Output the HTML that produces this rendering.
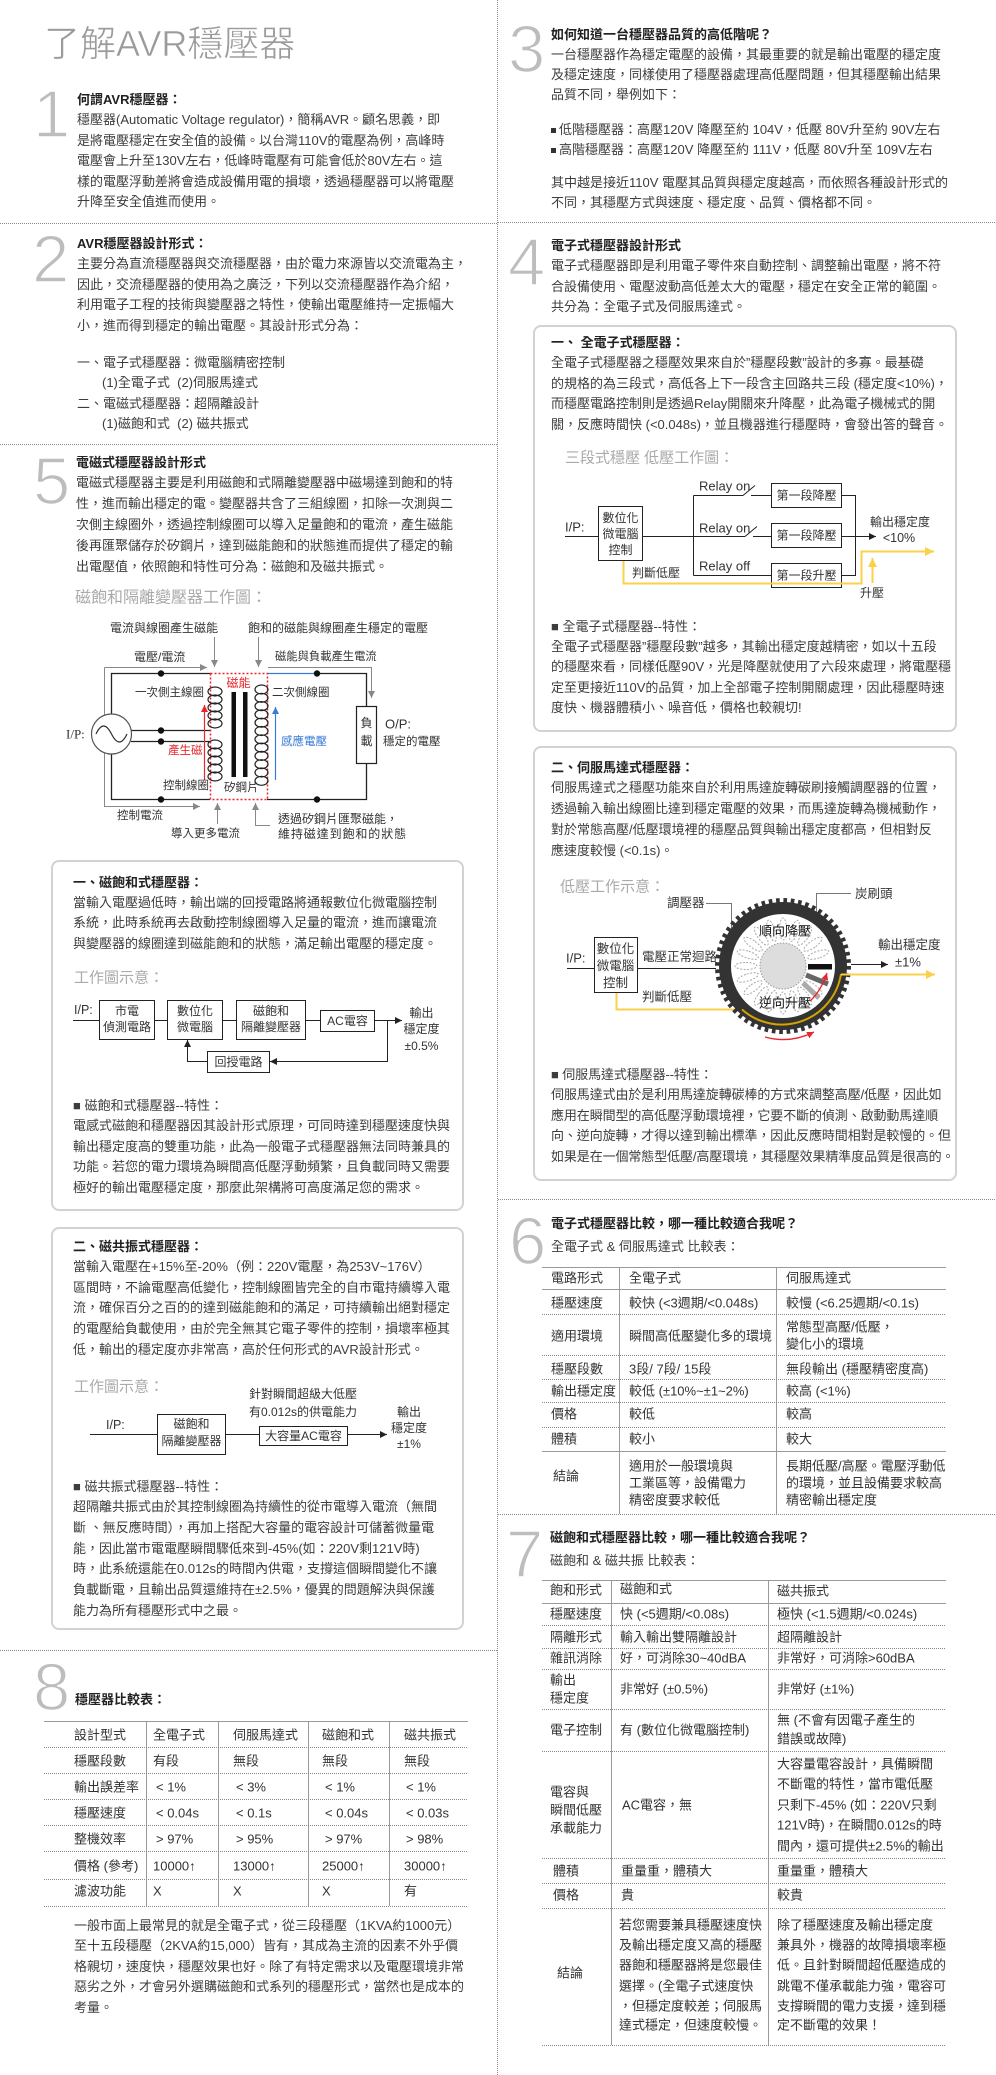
<!DOCTYPE html>
<html><head><meta charset="utf-8">
<style>
*{margin:0;padding:0}
body{width:996px;height:2075px;position:relative;background:#fff;font-family:"Liberation Sans","Noto Sans CJK TC",sans-serif;color:#3d3d3d;font-size:13px;overflow:hidden}
.p{position:absolute;white-space:nowrap;font-size:13px}
.p b{color:#222}
.n{position:absolute;font-size:67px;line-height:67px;color:#bdbdbd;font-family:"Liberation Sans",sans-serif;-webkit-text-stroke:1.6px #fff}
svg{position:absolute;left:0;top:0}
svg text{font-family:"Liberation Sans","Noto Sans CJK TC",sans-serif;fill:#333;dominant-baseline:central}
.sq{display:inline-block;width:5px;height:5px;background:#333;margin-right:3px;vertical-align:middle}
.ind{display:inline-block;margin-left:25px}
</style></head><body>

<svg width="996" height="2075" viewBox="0 0 996 2075">
<defs>
<marker id="ak" markerWidth="8" markerHeight="8" refX="7" refY="3.5" orient="auto" markerUnits="userSpaceOnUse"><path d="M0,0 L7,3.5 L0,7 z" fill="#222"/></marker>
<marker id="ag" markerWidth="8" markerHeight="8" refX="7" refY="3.5" orient="auto" markerUnits="userSpaceOnUse"><path d="M0,0 L7,3.5 L0,7 z" fill="#888"/></marker>
<marker id="ar" markerWidth="8" markerHeight="8" refX="7" refY="3.5" orient="auto" markerUnits="userSpaceOnUse"><path d="M0,0 L7,3.5 L0,7 z" fill="#e8262b"/></marker>
<marker id="ab" markerWidth="8" markerHeight="8" refX="7" refY="3.5" orient="auto" markerUnits="userSpaceOnUse"><path d="M0,0 L7,3.5 L0,7 z" fill="#3a7bd5"/></marker>
<marker id="ay" markerWidth="10" markerHeight="10" refX="9" refY="4.5" orient="auto" markerUnits="userSpaceOnUse"><path d="M0,0 L9,4.5 L0,9 z" fill="#f9d24a"/></marker>
</defs>

<g stroke="#8a8a8a" stroke-width="1" stroke-dasharray="1 1">
<line x1="0" y1="223.5" x2="497" y2="223.5"/>
<line x1="0" y1="444.5" x2="497" y2="444.5"/>
<line x1="0" y1="1650.5" x2="497" y2="1650.5"/>
<line x1="498" y1="222.5" x2="996" y2="222.5"/>
<line x1="498" y1="1199.5" x2="996" y2="1199.5"/>
<line x1="498" y1="1514.5" x2="996" y2="1514.5"/>
<line x1="497.5" y1="0" x2="497.5" y2="2075"/>
</g>

<g fill="none" stroke="#d2d2d2" stroke-width="2">
<rect x="52" y="861" width="411" height="349" rx="7"/>
<rect x="52" y="1228" width="411" height="401" rx="7"/>
<rect x="534" y="326" width="422" height="405" rx="7"/>
<rect x="534" y="747" width="422" height="433" rx="7"/>
</g>

<!-- Diagram 1 -->
<text x="75" y="598" font-size="16" style="fill:#aaa">磁飽和隔離變壓器工作圖：</text>
<g font-size="12">
<text x="110" y="628">電流與線圈產生磁能</text>
<text x="248" y="628">飽和的磁能與線圈產生穩定的電壓</text>
<text x="134" y="657">電壓/電流</text>
<text x="275" y="657" font-size="11.3">磁能與負載產生電流</text>
</g>
<g stroke="#888" fill="none" stroke-width="1">
<path d="M214.5 637 V667" marker-end="url(#ag)"/>
<path d="M258.5 637 V667" marker-end="url(#ag)"/>
<path d="M104.5 667.5 H207" marker-end="url(#ag)"/>
<path d="M104.5 667.5 V806.5 H200" marker-end="url(#ag)"/>
<path d="M268 667.5 H371.5 V698" marker-end="url(#ag)"/>
<path d="M217.5 824 V803" marker-end="url(#ag)"/>
<path d="M270 825.5 H255.5 V803" marker-end="url(#ag)"/>
</g>
<g stroke="#222" stroke-width="1.3" fill="none">
<path d="M210 673.5 H111.5 V714 M111.5 754 V799.5 H210"/>
<path d="M131 730.5 H210 M131 741.5 H210"/>
<path d="M317 673.5 H366.5 V706 M366.5 763 V799.5 H267"/>
<rect x="356.5" y="706.5" width="20" height="57" stroke-width="1.2"/>
</g>
<path d="M267 673.5 H317" stroke="#3a7bd5" stroke-width="1.3"/>
<g fill="#111">
<circle cx="161" cy="673.5" r="3.2"/><circle cx="161" cy="730.5" r="3.2"/><circle cx="161" cy="741.5" r="3.2"/><circle cx="161" cy="799.5" r="3.2"/>
<circle cx="317" cy="673.5" r="3.2"/><circle cx="317" cy="799.5" r="3.2"/>
</g>
<circle cx="111.5" cy="734" r="20" fill="#fff" stroke="#555" stroke-width="1.2"/>
<path d="M96 734 Q103.5 718 111.5 734 T127 734" stroke="#333" fill="none" stroke-width="1.2"/>
<rect x="210.5" y="673.5" width="57" height="126" fill="none" stroke="#e8262b" stroke-width="1.5" stroke-dasharray="2 2"/>
<g stroke="#222" stroke-width="1.2" fill="none">
<ellipse cx="215" cy="691.5" rx="7" ry="4.5"/><ellipse cx="215" cy="699.5" rx="7" ry="4.5"/><ellipse cx="215" cy="707.5" rx="7" ry="4.5"/><ellipse cx="215" cy="715.5" rx="7" ry="4.5"/><ellipse cx="215" cy="723.5" rx="7" ry="4.5"/>
<ellipse cx="215" cy="744.5" rx="7" ry="4.5"/><ellipse cx="215" cy="752.5" rx="7" ry="4.5"/><ellipse cx="215" cy="760.5" rx="7" ry="4.5"/><ellipse cx="215" cy="768.5" rx="7" ry="4.5"/><ellipse cx="215" cy="776.5" rx="7" ry="4.5"/>
<ellipse cx="261.5" cy="689.5" rx="6.5" ry="4.5"/><ellipse cx="261.5" cy="697.8" rx="6.5" ry="4.5"/><ellipse cx="261.5" cy="706.1" rx="6.5" ry="4.5"/><ellipse cx="261.5" cy="714.4" rx="6.5" ry="4.5"/><ellipse cx="261.5" cy="722.7" rx="6.5" ry="4.5"/><ellipse cx="261.5" cy="731" rx="6.5" ry="4.5"/><ellipse cx="261.5" cy="739.3" rx="6.5" ry="4.5"/><ellipse cx="261.5" cy="747.6" rx="6.5" ry="4.5"/><ellipse cx="261.5" cy="755.9" rx="6.5" ry="4.5"/><ellipse cx="261.5" cy="764.2" rx="6.5" ry="4.5"/><ellipse cx="261.5" cy="772.5" rx="6.5" ry="4.5"/><ellipse cx="261.5" cy="780.8" rx="6.5" ry="4.5"/>
</g>
<rect x="231.5" y="692" width="4.5" height="85" fill="#111"/>
<rect x="243" y="692" width="4.5" height="85" fill="#111"/>
<path d="M204.5 780 V705" stroke="#e8262b" stroke-width="1.2" marker-end="url(#ar)"/>
<path d="M275.5 780 V707" stroke="#3a7bd5" stroke-width="1.2" marker-end="url(#ab)"/>
<g font-size="11.5">
<text x="238.5" y="683" text-anchor="middle" font-size="12" style="fill:#e8262b">磁能</text>
<text x="135" y="693">一次側主線圈</text>
<text x="272" y="693">二次側線圈</text>
<text x="168" y="751" style="fill:#e8262b">產生磁</text>
<text x="163" y="786">控制線圈</text>
<text x="224" y="788">矽鋼片</text>
<text x="281" y="742" style="fill:#3a7bd5">感應電壓</text>
<text x="366.5" y="723" text-anchor="middle" font-size="12">負</text>
<text x="366.5" y="741" text-anchor="middle" font-size="12">載</text>
<text x="385" y="724" font-size="13">O/P:</text>
<text x="383" y="742">穩定的電壓</text>
<text x="66" y="734" font-size="13" style="font-family:'Liberation Serif',serif">I/P:</text>
<text x="117" y="816">控制電流</text>
<text x="171" y="834">導入更多電流</text>
<text x="278" y="819" font-size="12">透過矽鋼片匯聚磁能，</text>
<text x="278" y="834" font-size="12" letter-spacing="0.9">維持磁達到飽和的狀態</text>
</g>

<!-- Diagram 2 -->
<text x="74" y="978" font-size="15" style="fill:#aaa">工作圖示意：</text>
<g stroke="#222" fill="none" stroke-width="1">
<path d="M73 1020.5 H99.5"/>
<rect x="99.5" y="1000.5" width="55" height="39"/>
<rect x="167.5" y="1000.5" width="55" height="39"/>
<rect x="236.5" y="1000.5" width="69" height="39"/>
<rect x="320.5" y="1010.5" width="54" height="21"/>
<path d="M154.5 1020.5 H167.5 M222.5 1020.5 H236.5 M305.5 1020.5 H320.5"/>
<path d="M374.5 1020.5 H402" marker-end="url(#ak)"/>
<path d="M387.5 1020.5 V1061.5 H270" marker-end="url(#ak)"/>
<rect x="207.5" y="1051.5" width="62" height="21"/>
<path d="M207.5 1061.5 H187.5 V1040" marker-end="url(#ak)"/>
</g>
<g font-size="12" text-anchor="middle">
<text x="127" y="1011">市電</text><text x="127" y="1027">偵測電路</text>
<text x="195" y="1011">數位化</text><text x="195" y="1027">微電腦</text>
<text x="271" y="1011">磁飽和</text><text x="271" y="1027">隔離變壓器</text>
<text x="347.5" y="1021">AC電容</text>
<text x="238.5" y="1062">回授電路</text>
<text x="421.5" y="1013">輸出</text><text x="421.5" y="1029">穩定度</text><text x="421.5" y="1046">±0.5%</text>
</g>
<text x="74" y="1010" font-size="12.5">I/P:</text>

<!-- Diagram 3 -->
<text x="74" y="1387" font-size="15" style="fill:#aaa">工作圖示意：</text>
<g stroke="#222" fill="none" stroke-width="1">
<path d="M90 1434.5 H157.5"/>
<rect x="157.5" y="1414.5" width="68" height="40"/>
<path d="M225.5 1434.5 H259.5"/>
<rect x="259.5" y="1426.5" width="88" height="19"/>
<path d="M347.5 1434.5 H387" marker-end="url(#ak)"/>
</g>
<g font-size="12">
<text x="106" y="1425" font-size="12.5">I/P:</text>
<text x="249" y="1394">針對瞬間超級大低壓</text>
<text x="249" y="1412">有0.012s的供電能力</text>
</g>
<g font-size="12" text-anchor="middle">
<text x="191.5" y="1424">磁飽和</text><text x="191.5" y="1441">隔離變壓器</text>
<text x="303.5" y="1436">大容量AC電容</text>
<text x="409" y="1412">輸出</text><text x="409" y="1428">穩定度</text><text x="409" y="1444">±1%</text>
</g>

<!-- Diagram 4 -->
<text x="565" y="458" font-size="15" style="fill:#aaa">三段式穩壓 低壓工作圖：</text>
<g stroke="#222" fill="none" stroke-width="1">
<path d="M565 536.5 H598.5"/>
<rect x="598.5" y="506.5" width="44" height="54"/>
<path d="M642.5 536.5 H745 M693.5 495.5 V575.5 M693.5 495.5 H743 M743 495.5 L755 485.5 M751 495.5 H771.5 M745 536.5 L757 526.5 M753 536.5 H771.5 M693.5 575.5 H771.5"/>
<rect x="771.5" y="483.5" width="70" height="24"/>
<rect x="771.5" y="523.5" width="70" height="24"/>
<rect x="771.5" y="563.5" width="70" height="24"/>
<path d="M841.5 495.5 H855.5 V575.5 H841.5"/>
<path d="M841.5 536.5 H876" marker-end="url(#ak)"/>
</g>
<path d="M623.5 561 V583.5 H861.5 V551.5 H934" stroke="#f9d24a" stroke-width="2" fill="none" marker-end="url(#ay)"/>
<path d="M872.5 583 V558" stroke="#f9d24a" stroke-width="2" fill="none" marker-end="url(#ay)"/>
<g font-size="12" text-anchor="middle">
<text x="620.5" y="518">數位化</text><text x="620.5" y="534">微電腦</text><text x="620.5" y="550">控制</text>
<text x="806.5" y="495.5">第一段降壓</text><text x="806.5" y="535.5">第一段降壓</text><text x="806.5" y="575.5">第一段升壓</text>
<text x="899" y="538" font-size="12.5">&lt;10%</text>
<text x="872" y="593">升壓</text>
</g>
<g font-size="12">
<text x="565" y="527" font-size="13">I/P:</text>
<text x="699" y="486" font-size="13">Relay on</text>
<text x="699" y="528" font-size="13">Relay on</text>
<text x="699" y="566" font-size="13">Relay off</text>
<text x="870" y="522">輸出穩定度</text>
<text x="632" y="573">判斷低壓</text>
</g>

<!-- Diagram 5 -->
<text x="560" y="887" font-size="15" style="fill:#aaa">低壓工作示意：</text>
<g stroke="#777" fill="none" stroke-width="1">
<path d="M706 903.5 H731.5 V935"/>
<path d="M851 893.5 H816.5 V966"/>
</g>
<g stroke="#222" fill="none" stroke-width="1">
<path d="M567 968.5 H594.5"/>
<rect x="594.5" y="937.5" width="43" height="55"/>
<path d="M637.5 968.5 H716"/>
</g>
<path d="M616.5 993 V1009.5 H742" stroke="#f9d24a" stroke-width="2" fill="none"/>
<circle cx="783" cy="966" r="65" fill="none" stroke="#333" stroke-width="6" stroke-dasharray="3.6 3.7"/>
<circle cx="783" cy="966" r="58" fill="#fff" stroke="#333" stroke-width="12"/>
<g fill="none" stroke="#aaa" stroke-width="1" stroke-dasharray="2 1.5">
<ellipse cx="783" cy="929" rx="3.5" ry="11"/>
<ellipse cx="783" cy="929" rx="3.5" ry="11" transform="rotate(18 783 966)"/>
<ellipse cx="783" cy="929" rx="3.5" ry="11" transform="rotate(36 783 966)"/>
<ellipse cx="783" cy="929" rx="3.5" ry="11" transform="rotate(54 783 966)"/>
<ellipse cx="783" cy="929" rx="3.5" ry="11" transform="rotate(72 783 966)"/>
<ellipse cx="783" cy="929" rx="3.5" ry="11" transform="rotate(126 783 966)"/>
<ellipse cx="783" cy="929" rx="3.5" ry="11" transform="rotate(144 783 966)"/>
<ellipse cx="783" cy="929" rx="3.5" ry="11" transform="rotate(162 783 966)"/>
<ellipse cx="783" cy="929" rx="3.5" ry="11" transform="rotate(180 783 966)"/>
<ellipse cx="783" cy="929" rx="3.5" ry="11" transform="rotate(198 783 966)"/>
<ellipse cx="783" cy="929" rx="3.5" ry="11" transform="rotate(216 783 966)"/>
<ellipse cx="783" cy="929" rx="3.5" ry="11" transform="rotate(234 783 966)"/>
<ellipse cx="783" cy="929" rx="3.5" ry="11" transform="rotate(252 783 966)"/>
<ellipse cx="783" cy="929" rx="3.5" ry="11" transform="rotate(270 783 966)"/>
<ellipse cx="783" cy="929" rx="3.5" ry="11" transform="rotate(288 783 966)"/>
<ellipse cx="783" cy="929" rx="3.5" ry="11" transform="rotate(306 783 966)"/>
<ellipse cx="783" cy="929" rx="3.5" ry="11" transform="rotate(324 783 966)"/>
<ellipse cx="783" cy="929" rx="3.5" ry="11" transform="rotate(342 783 966)"/>
</g>
<circle cx="783" cy="966" r="23" fill="#ddd" stroke="#999" stroke-width="1" stroke-dasharray="1.5 1.5"/>
<path d="M806 975 L828 984" stroke="#666" stroke-width="5"/>
<path d="M803 983 L819 998" stroke="#aaa" stroke-width="5"/>
<rect x="808" y="964" width="24" height="5.5" fill="#111"/>
<path d="M742 1009.5 A60 60 0 0 0 841 974" stroke="#d4a400" stroke-width="2" fill="none"/>
<path d="M841 974.5 H935" stroke="#f9d24a" stroke-width="2" fill="none" marker-end="url(#ay)"/>
<path d="M851 964.5 H888" stroke="#222" stroke-width="1" marker-end="url(#ak)"/>
<path d="M810 1001 Q821 991 827 973" stroke="#e8262b" fill="none" stroke-width="1.3" marker-end="url(#ar)"/>
<path d="M765 1037 Q790 1044 814 1032" stroke="#e8262b" fill="none" stroke-width="1.3" marker-end="url(#ar)"/>
<g font-size="12.5">
<text x="667" y="903">調壓器</text>
<text x="855" y="894">炭刷頭</text>
<text x="566" y="958" font-size="13">I/P:</text>
<text x="642" y="957">電壓正常迴路</text>
<text x="642" y="997">判斷低壓</text>
<text x="878" y="945">輸出穩定度</text>
</g>
<g font-size="12.5" text-anchor="middle">
<text x="615.5" y="949">數位化</text><text x="615.5" y="966">微電腦</text><text x="615.5" y="983">控制</text>
<text x="908" y="962" font-size="13">±1%</text>
<text x="785" y="931" font-size="13" style="fill:#111">順向降壓</text>
<text x="785" y="1003" font-size="13" style="fill:#111">逆向升壓</text>
</g>

<!-- Table 8 -->
<g stroke="#999" stroke-width="1">
<line x1="44" y1="1721.5" x2="468" y2="1721.5"/>
<line x1="146.5" y1="1721" x2="146.5" y2="1906"/>
<line x1="218.5" y1="1721" x2="218.5" y2="1906"/>
<line x1="308.5" y1="1721" x2="308.5" y2="1906"/>
<line x1="389.5" y1="1721" x2="389.5" y2="1906"/>
</g>
<g stroke="#888" stroke-width="1" stroke-dasharray="1 1">
<line x1="44" y1="1747.5" x2="468" y2="1747.5"/>
<line x1="44" y1="1773.5" x2="468" y2="1773.5"/>
<line x1="44" y1="1799.5" x2="468" y2="1799.5"/>
<line x1="44" y1="1825.5" x2="468" y2="1825.5"/>
<line x1="44" y1="1851.5" x2="468" y2="1851.5"/>
<line x1="44" y1="1879.5" x2="468" y2="1879.5"/>
<line x1="44" y1="1906.5" x2="468" y2="1906.5"/>
</g>
<g font-size="13" style="fill:#444">
<text x="74" y="1735">設計型式</text><text x="153" y="1735">全電子式</text><text x="233" y="1735">伺服馬達式</text><text x="322" y="1735">磁飽和式</text><text x="404" y="1735">磁共振式</text>
<text x="74" y="1761">穩壓段數</text><text x="153" y="1761">有段</text><text x="233" y="1761">無段</text><text x="322" y="1761">無段</text><text x="404" y="1761">無段</text>
<text x="74" y="1787">輸出誤差率</text><text x="156" y="1787">&lt; 1%</text><text x="236" y="1787">&lt; 3%</text><text x="325" y="1787">&lt; 1%</text><text x="406" y="1787">&lt; 1%</text>
<text x="74" y="1813">穩壓速度</text><text x="156" y="1813">&lt; 0.04s</text><text x="236" y="1813">&lt; 0.1s</text><text x="325" y="1813">&lt; 0.04s</text><text x="406" y="1813">&lt; 0.03s</text>
<text x="74" y="1839">整機效率</text><text x="156" y="1839">&gt; 97%</text><text x="236" y="1839">&gt; 95%</text><text x="325" y="1839">&gt; 97%</text><text x="406" y="1839">&gt; 98%</text>
<text x="74" y="1866">價格 (參考)</text><text x="153" y="1866">10000↑</text><text x="233" y="1866">13000↑</text><text x="322" y="1866">25000↑</text><text x="404" y="1866">30000↑</text>
<text x="74" y="1891">濾波功能</text><text x="153" y="1891">X</text><text x="233" y="1891">X</text><text x="322" y="1891">X</text><text x="404" y="1891">有</text>
</g>

<!-- Table 6 -->
<g stroke="#999" stroke-width="1">
<line x1="542" y1="1267.5" x2="946" y2="1267.5"/>
<line x1="542" y1="1289.5" x2="946" y2="1289.5"/>
<line x1="542" y1="1451.5" x2="946" y2="1451.5"/>
<line x1="619.5" y1="1267" x2="619.5" y2="1514"/>
<line x1="776.5" y1="1267" x2="776.5" y2="1514"/>
</g>
<g stroke="#888" stroke-width="1" stroke-dasharray="1 1">
<line x1="542" y1="1314.5" x2="946" y2="1314.5"/>
<line x1="542" y1="1355.5" x2="946" y2="1355.5"/>
<line x1="542" y1="1379.5" x2="946" y2="1379.5"/>
<line x1="542" y1="1402.5" x2="946" y2="1402.5"/>
<line x1="542" y1="1427.5" x2="946" y2="1427.5"/>
</g>
<g font-size="13" style="fill:#444">
<text x="551" y="1278">電路形式</text><text x="629" y="1278">全電子式</text><text x="786" y="1278">伺服馬達式</text>
<text x="551" y="1303">穩壓速度</text><text x="629" y="1303">較快 (&lt;3週期/&lt;0.048s)</text><text x="786" y="1303">較慢 (&lt;6.25週期/&lt;0.1s)</text>
<text x="551" y="1336">適用環境</text><text x="629" y="1336">瞬間高低壓變化多的環境</text><text x="786" y="1327">常態型高壓/低壓，</text><text x="786" y="1344">變化小的環境</text>
<text x="551" y="1369">穩壓段數</text><text x="629" y="1369">3段/ 7段/ 15段</text><text x="786" y="1369">無段輸出 (穩壓精密度高)</text>
<text x="551" y="1391">輸出穩定度</text><text x="629" y="1391">較低 (±10%~±1~2%)</text><text x="786" y="1391">較高 (&lt;1%)</text>
<text x="551" y="1414">價格</text><text x="629" y="1414">較低</text><text x="786" y="1414">較高</text>
<text x="551" y="1439">體積</text><text x="629" y="1439">較小</text><text x="786" y="1439">較大</text>
<text x="553" y="1476">結論</text>
<text x="629" y="1466">適用於一般環境與</text><text x="629" y="1483">工業區等，設備電力</text><text x="629" y="1500">精密度要求較低</text>
<text x="786" y="1466">長期低壓/高壓。電壓浮動低</text><text x="786" y="1483">的環境，並且設備要求較高</text><text x="786" y="1500">精密輸出穩定度</text>
</g>

<!-- Table 7 -->
<g stroke="#999" stroke-width="1">
<line x1="542" y1="1580.5" x2="946" y2="1580.5"/>
<line x1="542" y1="1603.5" x2="946" y2="1603.5"/>
<line x1="611.5" y1="1580" x2="611.5" y2="2045"/>
<line x1="768.5" y1="1580" x2="768.5" y2="2045"/>
</g>
<g stroke="#888" stroke-width="1" stroke-dasharray="1 1">
<line x1="542" y1="1625.5" x2="946" y2="1625.5"/>
<line x1="542" y1="1648.5" x2="946" y2="1648.5"/>
<line x1="542" y1="1669.5" x2="946" y2="1669.5"/>
<line x1="542" y1="1709.5" x2="946" y2="1709.5"/>
<line x1="542" y1="1751.5" x2="946" y2="1751.5"/>
<line x1="542" y1="1858.5" x2="946" y2="1858.5"/>
<line x1="542" y1="1883.5" x2="946" y2="1883.5"/>
<line x1="542" y1="1908.5" x2="946" y2="1908.5"/>
<line x1="542" y1="2045.5" x2="946" y2="2045.5"/>
</g>
<g font-size="13" style="fill:#444">
<text x="550" y="1590">飽和形式</text><text x="620" y="1589">磁飽和式</text><text x="777" y="1591">磁共振式</text>
<text x="550" y="1614">穩壓速度</text><text x="620" y="1614">快 (&lt;5週期/&lt;0.08s)</text><text x="777" y="1614">極快 (&lt;1.5週期/&lt;0.024s)</text>
<text x="550" y="1637">隔離形式</text><text x="620" y="1637">輸入輸出雙隔離設計</text><text x="777" y="1637">超隔離設計</text>
<text x="550" y="1658">雜訊消除</text><text x="620" y="1658">好，可消除30~40dBA</text><text x="777" y="1658">非常好，可消除&gt;60dBA</text>
<text x="550" y="1680">輸出</text><text x="550" y="1698">穩定度</text><text x="620" y="1689">非常好 (±0.5%)</text><text x="777" y="1689">非常好 (±1%)</text>
<text x="550" y="1730">電子控制</text><text x="620" y="1730">有 (數位化微電腦控制)</text><text x="777" y="1720">無 (不會有因電子產生的</text><text x="777" y="1739">錯誤或故障)</text>
<text x="550" y="1792">電容與</text><text x="550" y="1810">瞬間低壓</text><text x="550" y="1828">承載能力</text>
<text x="622" y="1805">AC電容，無</text>
<text x="777" y="1764">大容量電容設計，具備瞬間</text><text x="777" y="1784">不斷電的特性，當市電低壓</text><text x="777" y="1805">只剩下-45% (如：220V只剩</text><text x="777" y="1825">121V時)，在瞬間0.012s的時</text><text x="777" y="1846">間內，還可提供±2.5%的輸出</text>
<text x="553" y="1871">體積</text><text x="621" y="1871">重量重，體積大</text><text x="777" y="1871">重量重，體積大</text>
<text x="553" y="1895">價格</text><text x="621" y="1895">貴</text><text x="777" y="1895">較貴</text>
<text x="557" y="1973">結論</text>
<text x="619" y="1925">若您需要兼具穩壓速度快</text><text x="619" y="1945">及輸出穩定度又高的穩壓</text><text x="619" y="1965">器飽和穩壓器將是您最佳</text><text x="619" y="1986">選擇。(全電子式速度快</text><text x="619" y="2006">，但穩定度較差；伺服馬</text><text x="619" y="2025">達式穩定，但速度較慢。</text>
<text x="777" y="1925">除了穩壓速度及輸出穩定度</text><text x="777" y="1945">兼具外，機器的故障損壞率極</text><text x="777" y="1965">低。且針對瞬間超低壓造成的</text><text x="777" y="1986">跳電不僅承載能力強，電容可</text><text x="777" y="2006">支撐瞬間的電力支援，達到穩</text><text x="777" y="2025">定不斷電的效果！</text>
</g>
</svg>

<div class="p" style="left:44px;top:21.5px;font-size:36px;line-height:44px;color:#9b9b9b;-webkit-text-stroke:0.6px #fff">了解AVR穩壓器</div>

<div class="n" style="left:33px;top:81px">1</div>
<div class="n" style="left:32px;top:226px">2</div>
<div class="n" style="left:33px;top:448px">5</div>
<div class="n" style="left:33px;top:1654px">8</div>
<div class="n" style="left:508px;top:16px">3</div>
<div class="n" style="left:508px;top:229px">4</div>
<div class="n" style="left:509px;top:1208px">6</div>
<div class="n" style="left:506px;top:1521px">7</div>

<div class="p" style="left:77px;top:89.75px;line-height:20.5px"><b>何謂AVR穩壓器：</b><br>穩壓器(Automatic Voltage regulator)，簡稱AVR。顧名思義，即<br>是將電壓穩定在安全值的設備。以台灣110V的電壓為例，高峰時<br>電壓會上升至130V左右，低峰時電壓有可能會低於80V左右。這<br>樣的電壓浮動差將會造成設備用電的損壞，透過穩壓器可以將電壓<br>升降至安全值進而使用。</div>

<div class="p" style="left:77px;top:233.75px;line-height:20.5px"><b>AVR穩壓器設計形式：</b><br>主要分為直流穩壓器與交流穩壓器，由於電力來源皆以交流電為主，<br>因此，交流穩壓器的使用為之廣泛，下列以交流穩壓器作為介紹，<br>利用電子工程的技術與變壓器之特性，使輸出電壓維持一定振幅大<br>小，進而得到穩定的輸出電壓。其設計形式分為：</div>
<div class="p" style="left:77px;top:352.7px;line-height:20.6px">一、電子式穩壓器：微電腦精密控制<br><span class="ind">(1)全電子式&nbsp;&nbsp;(2)伺服馬達式</span><br>二、電磁式穩壓器：超隔離設計<br><span class="ind">(1)磁飽和式&nbsp;&nbsp;(2) 磁共振式</span></div>

<div class="p" style="left:76px;top:452.6px;line-height:20.8px"><b>電磁式穩壓器設計形式</b><br>電磁式穩壓器主要是利用磁飽和式隔離變壓器中磁場達到飽和的特<br>性，進而輸出穩定的電。變壓器共含了三組線圈，扣除一次測與二<br>次側主線圈外，透過控制線圈可以導入足量飽和的電流，產生磁能<br>後再匯聚儲存於矽鋼片，達到磁能飽和的狀態進而提供了穩定的輸<br>出電壓值，依照飽和特性可分為：磁飽和及磁共振式。</div>

<div class="p" style="left:73px;top:872.8px;line-height:20.3px"><b>一、磁飽和式穩壓器：</b><br>當輸入電壓過低時，輸出端的回授電路將通報數位化微電腦控制<br>系統，此時系統再去啟動控制線圈導入足量的電流，進而讓電流<br>與變壓器的線圈達到磁能飽和的狀態，滿足輸出電壓的穩定度。</div>
<div class="p" style="left:73px;top:1095.7px;line-height:20.5px">■ 磁飽和式穩壓器--特性：<br>電感式磁飽和穩壓器因其設計形式原理，可同時達到穩壓速度快與<br>輸出穩定度高的雙重功能，此為一般電子式穩壓器無法同時兼具的<br>功能。若您的電力環境為瞬間高低壓浮動頻繁，且負載同時又需要<br>極好的輸出電壓穩定度，那麼此架構將可高度滿足您的需求。</div>

<div class="p" style="left:73px;top:1236.7px;line-height:20.6px"><b>二、磁共振式穩壓器：</b><br>當輸入電壓在+15%至-20%（例：220V電壓，為253V~176V）<br>區間時，不論電壓高低變化，控制線圈皆完全的自市電持續導入電<br>流，確保百分之百的的達到磁能飽和的滿足，可持續輸出絕對穩定<br>的電壓給負載使用，由於完全無其它電子零件的控制，損壞率極其<br>低，輸出的穩定度亦非常高，高於任何形式的AVR設計形式。</div>
<div class="p" style="left:73px;top:1476.6px;line-height:20.7px">■ 磁共振式穩壓器--特性：<br>超隔離共振式由於其控制線圈為持續性的從市電導入電流（無間<br>斷 、無反應時間），再加上搭配大容量的電容設計可儲蓄微量電<br>能，因此當市電電壓瞬間驟低來到-45%(如：220V剩121V時)<br>時，此系統還能在0.012s的時間內供電，支撐這個瞬間變化不讓<br>負載斷電，且輸出品質還維持在±2.5%，優異的問題解決與保護<br>能力為所有穩壓形式中之最。</div>

<div class="p" style="left:75px;top:1689.7px;line-height:20.6px"><b>穩壓器比較表：</b></div>
<div class="p" style="left:74px;top:1915.75px;line-height:20.5px">一般市面上最常見的就是全電子式，從三段穩壓（1KVA約1000元）<br>至十五段穩壓（2KVA約15,000）皆有，其成為主流的因素不外乎價<br>格親切，速度快，穩壓效果也好。除了有特定需求以及電壓環境非常<br>惡劣之外，才會另外選購磁飽和式系列的穩壓形式，當然也是成本的<br>考量。</div>

<div class="p" style="left:551px;top:25px;line-height:20px"><b>如何知道一台穩壓器品質的高低階呢？</b><br>一台穩壓器作為穩定電壓的設備，其最重要的就是輸出電壓的穩定度<br>及穩定速度，同樣使用了穩壓器處理高低壓問題，但其穩壓輸出結果<br>品質不同，舉例如下：</div>
<div class="p" style="left:551px;top:120px;line-height:20px"><span class="sq"></span>低階穩壓器：高壓120V 降壓至約 104V，低壓 80V升至約 90V左右<br><span class="sq"></span>高階穩壓器：高壓120V 降壓至約 111V，低壓 80V升至 109V左右</div>
<div class="p" style="left:551px;top:173px;line-height:20px">其中越是接近110V 電壓其品質與穩定度越高，而依照各種設計形式的<br>不同，其穩壓方式與速度、穩定度、品質、價格都不同。</div>

<div class="p" style="left:551px;top:235.75px;line-height:20.5px"><b>電子式穩壓器設計形式</b><br>電子式穩壓器即是利用電子零件來自動控制、調整輸出電壓，將不符<br>合設備使用、電壓波動高低差太大的電壓，穩定在安全正常的範圍。<br>共分為：全電子式及伺服馬達式。</div>

<div class="p" style="left:551px;top:332.75px;line-height:20.5px"><b>一、 全電子式穩壓器：</b><br>全電子式穩壓器之穩壓效果來自於”穩壓段數”設計的多寡。最基礎<br>的規格的為三段式，高低各上下一段含主回路共三段 (穩定度&lt;10%)，<br>而穩壓電路控制則是透過Relay開關來升降壓，此為電子機械式的開<br>關，反應時間快 (&lt;0.048s)，並且機器進行穩壓時，會發出答的聲音。</div>
<div class="p" style="left:551px;top:616.8px;line-height:20.3px">■ 全電子式穩壓器--特性：<br>全電子式穩壓器”穩壓段數”越多，其輸出穩定度越精密，如以十五段<br>的穩壓來看，同樣低壓90V，光是降壓就使用了六段來處理，將電壓穩<br>定至更接近110V的品質，加上全部電子控制開關處理，因此穩壓時速<br>度快、機器體積小、噪音低，價格也較親切!</div>

<div class="p" style="left:551px;top:757.7px;line-height:20.7px"><b>二、伺服馬達式穩壓器：</b><br>伺服馬達式之穩壓功能來自於利用馬達旋轉碳刷接觸調壓器的位置，<br>透過輸入輸出線圈比達到穩定電壓的效果，而馬達旋轉為機械動作，<br>對於常態高壓/低壓環境裡的穩壓品質與輸出穩定度都高，但相對反<br>應速度較慢 (&lt;0.1s)。</div>
<div class="p" style="left:551px;top:1064.7px;line-height:20.5px;letter-spacing:-0.1px">■ 伺服馬達式穩壓器--特性：<br>伺服馬達式由於是利用馬達旋轉碳棒的方式來調整高壓/低壓，因此如<br>應用在瞬間型的高低壓浮動環境裡，它要不斷的偵測、啟動動馬達順<br>向、逆向旋轉，才得以達到輸出標準，因此反應時間相對是較慢的。但<br>如果是在一個常態型低壓/高壓環境，其穩壓效果精準度品質是很高的。</div>

<div class="p" style="left:551px;top:1211.5px;line-height:23px"><b>電子式穩壓器比較，哪一種比較適合我呢？</b><br>全電子式 &amp; 伺服馬達式 比較表：</div>

<div class="p" style="left:550px;top:1525.5px;line-height:23px"><b>磁飽和式穩壓器比較，哪一種比較適合我呢？</b><br>磁飽和 &amp; 磁共振 比較表：</div>

</body></html>
